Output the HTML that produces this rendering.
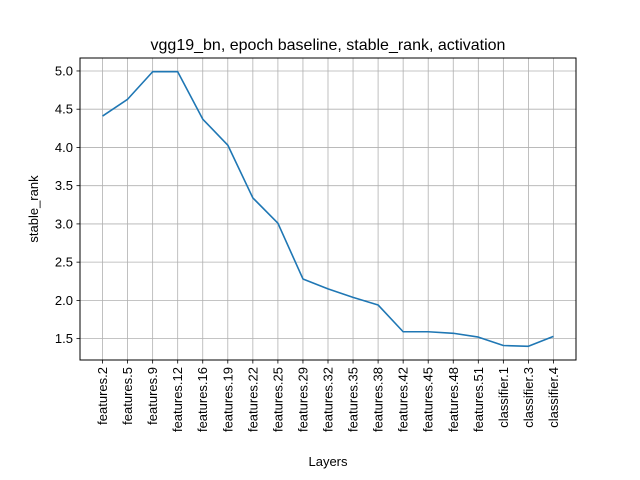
<!DOCTYPE html>
<html><head><meta charset="utf-8"><style>
body{margin:0;background:#fff;}
svg{display:block;font-family:"Liberation Sans","DejaVu Sans",sans-serif;}
</style></head><body>
<svg id="chart" width="640" height="480" viewBox="0 0 640 480">
<rect x="0" y="0" width="640" height="480" fill="#fff"/>
<text x="328" y="50" font-size="16" text-anchor="middle">vgg19_bn, epoch baseline, stable_rank, activation</text>
<g id="grid"></g>
<g id="axes"></g>
<g id="series"></g>
<rect x="80" y="58" width="496" height="302" fill="none" stroke="#000" stroke-width="1"/>
<text x="328" y="466" font-size="13" text-anchor="middle">Layers</text>
<text x="0" y="0" font-size="13" text-anchor="middle" transform="translate(38,209) rotate(-90)">stable_rank</text>
</svg>
<script>
const categories=["features.2","features.5","features.9","features.12","features.16","features.19","features.22","features.25","features.29","features.32","features.35","features.38","features.42","features.45","features.48","features.51","classifier.1","classifier.3","classifier.4"];
const values=[4.41,4.63,4.99,4.99,4.37,4.03,3.34,3.01,2.28,2.15,2.04,1.94,1.59,1.59,1.57,1.52,1.41,1.40,1.53];
const yTicks=[1.5,2.0,2.5,3.0,3.5,4.0,4.5,5.0];
const yTickLabels=["1.5","2.0","2.5","3.0","3.5","4.0","4.5","5.0"];
const NS="http://www.w3.org/2000/svg";
const L=80,R=576,T=58,B=360;
const n=categories.length;
const vmin=Math.min(...values),vmax=Math.max(...values),pad=(vmax-vmin)*0.05;
const y0=vmin-pad,y1=vmax+pad;
const xs=i=>L+(R-L)*(0.5+i)/(n)*((n)/(n-1+1.8))+ (R-L)*0.9/(n-1+1.8)-(R-L)*0.5/(n-1+1.8)*1;
function xPos(i){const span=(n-1)*1.1;const lo=-(n-1)*0.05;return L+(i-lo)/span*(R-L);}
const yPos=v=>B-(v-y0)/(y1-y0)*(B-T);
const grid=document.getElementById('grid'),axes=document.getElementById('axes'),series=document.getElementById('series');
function mk(tag,attrs,parent){const e=document.createElementNS(NS,tag);for(const k in attrs)e.setAttribute(k,attrs[k]);parent.appendChild(e);return e;}
categories.forEach((c,i)=>{
 const x=xPos(i);
 const g=mk('line',{x1:x,x2:x,y1:T,y2:B,stroke:'#b0b0b0','stroke-width':0.8},grid);
 
 
 const t=mk('line',{x1:x,x2:x,y1:B,y2:B+3.5,stroke:'#000','stroke-width':0.8},axes);
 
 
 const tx=mk('text',{x:0,y:0,'font-size':13,'text-anchor':'end',transform:`translate(${x+4.5},${B+7}) rotate(-90)`},axes);
 tx.textContent=c;
 
 
});
yTicks.forEach((v,i)=>{
 const y=yPos(v);
 const g=mk('line',{x1:L,x2:R,y1:y,y2:y,stroke:'#b0b0b0','stroke-width':0.8},grid);
 
 
 const t=mk('line',{x1:L-3.5,x2:L,y1:y,y2:y,stroke:'#000','stroke-width':0.8},axes);
 
 
 const tx=mk('text',{x:L-7,y:y+4.5,'font-size':13,'text-anchor':'end'},axes);
 tx.textContent=yTickLabels[i];
 
 
});
const pts=values.map((v,i)=>xPos(i).toFixed(2)+','+yPos(v).toFixed(2)).join(' ');
const line=mk('polyline',{points:pts,fill:'none',stroke:'#1f77b4','stroke-width':1.6,'stroke-linejoin':'round'},series);


</script>
</body></html>
